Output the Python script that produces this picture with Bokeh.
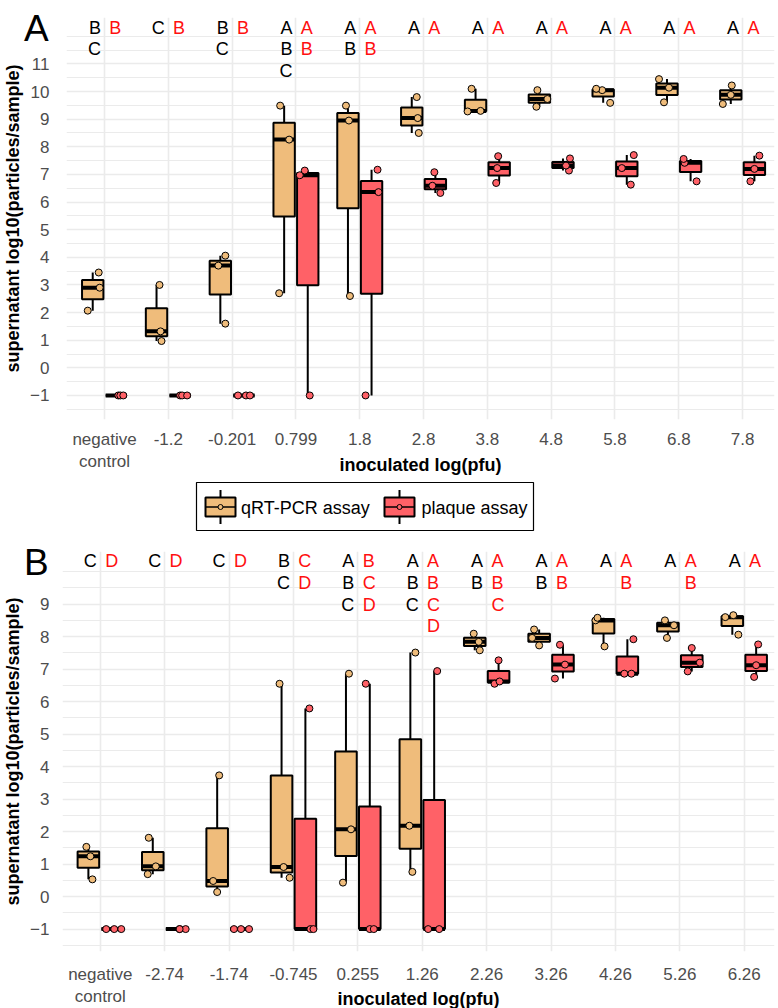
import numpy as np
from bokeh.plotting import figure
from bokeh.layouts import column
from bokeh.models import FixedTicker, Div, GridBox
from bokeh.embed import file_html
from bokeh.resources import INLINE
from bokeh.core.properties import value

FONT = "Liberation Sans"
ORANGE = "#EFBC7B"
RED = "#FF6167"
LETTER_RED = "#FF1010"

# ---------------- Panel A data ----------------
a_cats = ["negative\ncontrol", "-1.2", "-0.201", "0.799", "1.8", "2.8",
          "3.8", "4.8", "5.8", "6.8", "7.8"]
a_qpcr = [[2.07, 2.9, 3.45], [0.97, 1.32, 3.0], [1.6, 3.7, 4.06],
          [2.7, 8.26, 9.49], [2.6, 8.95, 9.49], [8.5, 9.04, 9.8],
          [9.28, 9.3, 10.1], [9.45, 9.73, 10.05], [9.59, 10.05, 10.1],
          [9.61, 10.14, 10.45], [9.55, 9.88, 10.22]]
a_qpcr_jit = [[-5, 7, 6], [5, 4, 3], [5, -2, 5], [-5, 5, -4], [2, 1, -2],
              [7, 6, 5], [-8, 5, -4], [-3, 8, -2], [7, -1, -7], [-3, 2, -8],
              [-8, 0, 1]]
a_plaque = [[-1, -1, -1], [-1, -1, -1], [-1, -1, -1], [-1, 6.97, 7.14],
            [-1, 6.36, 7.17], [6.33, 6.59, 7.08], [6.69, 7.23, 7.66],
            [7.14, 7.32, 7.58], [6.63, 7.23, 7.7], [6.75, 7.42, 7.56],
            [6.75, 7.2, 7.68]]
a_plaque_jit = [[2, 4, 7], [0, 2, 7], [-6, 2, 6], [2, -8, -3], [-6, 7, 6],
                [5, -3, -1], [-3, -2, -1], [6, 3, 7], [4, -5, 7], [6, -6, -7],
                [-4, 0, 5]]
a_letters_qpcr = ["BC", "C", "BC", "ABC", "AB", "A", "A", "A", "A", "A", "A"]
a_letters_plaque = ["B", "B", "B", "AB", "AB", "A", "A", "A", "A", "A", "A"]

# ---------------- Panel B data ----------------
b_cats = ["negative\ncontrol", "-2.74", "-1.74", "-0.745", "0.255", "1.26",
          "2.26", "3.26", "4.26", "5.26", "6.26"]
b_qpcr = [[0.53, 1.24, 1.53], [0.69, 0.93, 1.81], [0.14, 0.48, 3.73],
          [0.58, 0.91, 6.55], [0.43, 2.07, 6.86], [0.76, 2.18, 7.51],
          [7.58, 7.84, 8.09], [7.73, 7.96, 8.22], [7.7, 8.5, 8.58],
          [7.96, 8.35, 8.5], [8.06, 8.6, 8.66]]
b_qpcr_jit = [[4, 2, -2], [-5, 3, -4], [0, -4, 2], [8, 2, -2], [-3, 5, 3],
              [2, -1, 5], [5, 4, -1], [0, -7, -5], [1, -8, -6], [-1, 6, -3],
              [6, -7, 1]]
b_plaque = [[-1, -1, -1], [-1, -1, -1], [-1, -1, -1], [-1, -1, 5.79],
            [-1, -1, 6.55], [-1, -1, 6.94], [6.55, 6.62, 7.27],
            [6.71, 7.14, 7.75], [6.86, 6.86, 7.92], [6.93, 7.2, 7.65],
            [6.76, 7.12, 7.76]]
b_plaque_jit = [[-6, 2, 9], [3, 9, 3], [-7, 0, 8], [5, 8, 4], [0, 4, -4],
                [-6, 5, 3], [-4, 1, 0], [-8, 2, -3], [-3, 4, 6], [-4, 8, 0],
                [-2, 0, 2]]
b_letters_qpcr = ["C", "C", "C", "BC", "ABC", "ABC", "AB", "AB", "A", "A", "A"]
b_letters_plaque = ["D", "D", "D", "CD", "BCD", "ABCD", "ABC", "AB", "AB", "AB", "A"]

legend_labels = ["qRT-PCR assay", "plaque assay"]
legend_colors = [ORANGE, RED]

Y_TITLE = "supernatant log10(particles/sample)"
X_TITLE = "inoculated log(pfu)"

BW = 0.335
DODGE = 0.185
JIT_SCALE = 64.0

BORDER_R = 3


def box_stats(v):
    v = np.asarray(v, float)
    q1, med, q3 = np.percentile(v, [25, 50, 75])
    iqr = q3 - q1
    lo = v[v >= q1 - 1.5 * iqr].min()
    hi = v[v <= q3 + 1.5 * iqr].max()
    return q1, med, q3, lo, hi


def draw_series(p, vals, jit, offset, color):
    xs = np.arange(len(vals)) + offset
    st = np.array([box_stats(v) for v in vals])
    q1, med, q3, lo, hi = st.T
    p.segment(xs, q3, xs, hi, line_color="black", line_width=2)
    p.segment(xs, q1, xs, lo, line_color="black", line_width=2)
    p.quad(left=xs - BW / 2, right=xs + BW / 2, bottom=q1, top=q3,
           fill_color=color, line_color="black", line_width=2)
    p.segment(xs - BW / 2, med, xs + BW / 2, med, line_color="black",
              line_width=4, line_cap="butt")
    px, py = [], []
    for i, (v, j) in enumerate(zip(vals, jit)):
        for vv, jj in zip(v, j):
            px.append(xs[i] + jj / JIT_SCALE)
            py.append(vv)
    p.scatter(px, py, size=7, fill_color=color, line_color="black", line_width=1)


def draw_letters(p, letters, offset, align, color, top, step):
    xs, ys, ts = [], [], []
    for i, s in enumerate(letters):
        for k, ch in enumerate(s):
            xs.append(i + offset)
            ys.append(top - k * step)
            ts.append(ch)
    p.text(xs, ys, text=ts, text_align=align, text_baseline="middle",
           text_font=value(FONT), text_font_size="18px", text_color=color)


def make_panel(cats, qv, qj, pv, pj, lq, lp, ymax_tick, yr, xr, fw, fh,
               bl, bt, bb, ltop, lstep, ylab_standoff, xlab_standoff, xl_standoff):
    p = figure(frame_width=fw, frame_height=fh, x_range=xr, y_range=yr,
               output_backend="svg", toolbar_location=None,
               min_border_left=bl, min_border_right=BORDER_R,
               min_border_top=bt, min_border_bottom=bb)
    p.outline_line_color = None
    p.background_fill_color = "white"
    p.border_fill_color = None

    yt = list(range(-1, ymax_tick + 1))
    ym = [t + 0.5 for t in range(-2, ymax_tick + 1)] + [ymax_tick + 1]
    p.yaxis.ticker = FixedTicker(ticks=yt, minor_ticks=ym)
    p.xaxis.ticker = FixedTicker(ticks=list(range(len(cats))))
    p.xaxis.major_label_overrides = {i: c for i, c in enumerate(cats)}

    p.xgrid.grid_line_color = "#EBEBEB"
    p.xgrid.grid_line_width = 1.6
    p.ygrid.grid_line_color = "#EBEBEB"
    p.ygrid.grid_line_width = 1.6
    p.ygrid.minor_grid_line_color = "#EBEBEB"
    p.ygrid.minor_grid_line_width = 1.2

    for ax in (p.xaxis[0], p.yaxis[0]):
        ax.axis_line_color = None
        ax.major_tick_line_color = None
        ax.minor_tick_line_color = None
        ax.major_tick_out = 0
        ax.major_tick_in = 0
        ax.major_label_text_font = FONT
        ax.major_label_text_font_size = "17px"
        ax.major_label_text_color = "#4D4D4D"
        ax.axis_label_text_font = FONT
        ax.axis_label_text_font_size = "18px"
        ax.axis_label_text_font_style = "bold"
        ax.axis_label_text_color = "black"
    p.xaxis.axis_label = X_TITLE
    p.yaxis.axis_label = Y_TITLE
    p.yaxis.major_label_standoff = ylab_standoff
    p.yaxis.axis_label_standoff = 4
    p.xaxis.major_label_standoff = xlab_standoff
    p.xaxis.axis_label_standoff = xl_standoff

    draw_series(p, qv, qj, -DODGE, ORANGE)
    draw_series(p, pv, pj, DODGE, RED)
    draw_letters(p, lq, -0.055, "right", "black", ltop, lstep)
    draw_letters(p, lp, 0.075, "left", LETTER_RED, ltop, lstep)
    return p


def tag_div(tag, top, left):
    return Div(text=tag, width=44, height=46, margin=(top, 0, 0, left), align="start",
               styles={"font-family": "'Liberation Sans', Arial, sans-serif",
                       "font-size": "37px", "line-height": "46px",
                       "color": "black", "position": "relative", "z-index": "5"})


pa = make_panel(a_cats, a_qpcr, a_qpcr_jit, a_plaque, a_plaque_jit,
                a_letters_qpcr, a_letters_plaque, 11, (-1.87, 12.68),
                (-0.596, 10.5), 708, 402, 66, 17, 58, 12.31, 0.785, 13, 10, -19)

pb = make_panel(b_cats, b_qpcr, b_qpcr_jit, b_plaque, b_plaque_jit,
                b_letters_qpcr, b_letters_plaque, 9, (-1.69, 10.62),
                (-0.587, 10.47), 712, 400, 55, 11, 55, 10.32, 0.668, 9, 13, -20)

gA = GridBox(children=[(pa, 0, 0), (tag_div("A", 6, 24), 0, 0)])
gB = GridBox(children=[(pb, 0, 0), (tag_div("B", 0, 24), 0, 0)])

# ---------------- Legend strip (x in page pixels) ----------------
leg = figure(frame_width=712, frame_height=62, x_range=(56, 768), y_range=(0, 62),
             x_axis_type=None, y_axis_type=None, toolbar_location=None,
             output_backend="svg", min_border_left=55,
             min_border_right=BORDER_R, min_border_top=0, min_border_bottom=0)
leg.outline_line_color = None
leg.grid.visible = False
leg.quad(left=[197], right=[534], bottom=[10], top=[58], fill_color="white",
         line_color="black", line_width=1.2)
icon_x = [221, 400]
text_x = [241.5, 422]
yc = 33.5
leg.segment(icon_x, [yc - 17] * 2, icon_x, [yc + 17] * 2, line_color="black", line_width=2)
leg.quad(left=[x - 15 for x in icon_x], right=[x + 15 for x in icon_x],
         bottom=[yc - 9.5] * 2, top=[yc + 9.5] * 2, fill_color=legend_colors,
         line_color="black", line_width=2)
leg.segment([x - 15 for x in icon_x], [yc] * 2, [x + 15 for x in icon_x], [yc] * 2,
            line_color="black", line_width=1.5)
leg.scatter(icon_x, [yc] * 2, size=5, fill_color=legend_colors, line_color="black",
            line_width=1)
leg.text(text_x, [yc - 1] * 2, text=legend_labels, text_align="left",
         text_baseline="middle", text_font=value(FONT), text_font_size="18px",
         text_color="black")

layout = column(gA, leg, gB)
open("out.html", "w").write(file_html(layout, INLINE))
